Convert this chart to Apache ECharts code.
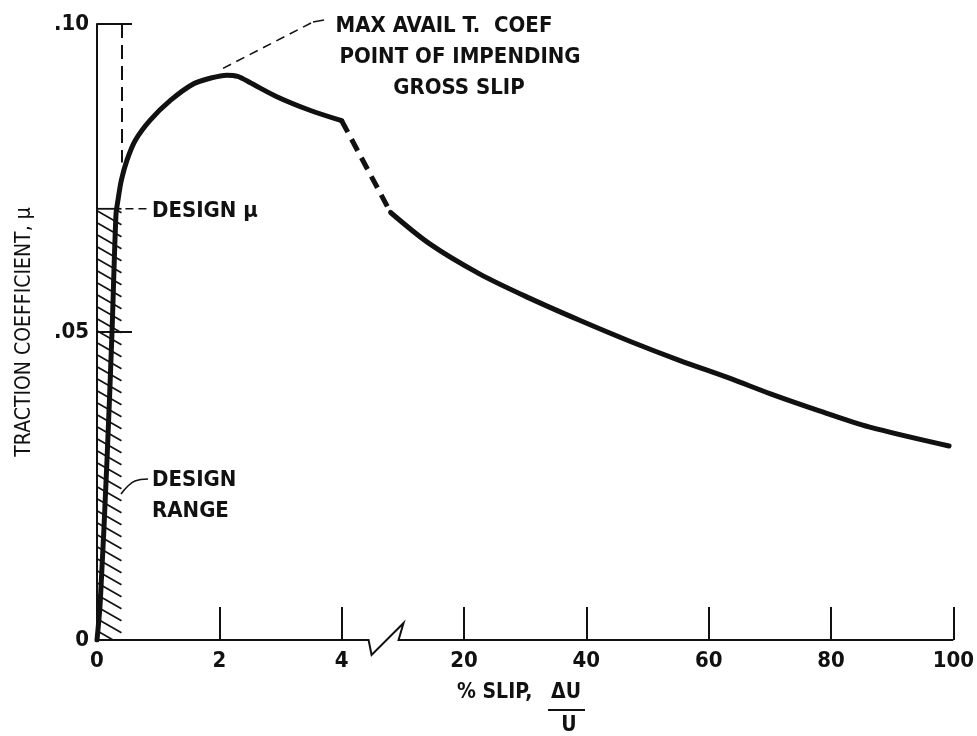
<!DOCTYPE html>
<html><head><meta charset="utf-8">
<script src="https://cdn.jsdelivr.net/npm/echarts@6/dist/echarts.min.js"></script>
<style>html,body{margin:0;padding:0;background:#fff}#c{width:977px;height:736px}</style>
</head><body><div id="c"></div>
<script>
const FONT = "'DejaVu Sans Condensed', 'DejaVu Sans', sans-serif";
const INK = '#111';

// ---- data (real % slip, traction coefficient) ----
const rampSlip = [0, 0.054, 0.163, 0.245, 0.31, 0.343, 0.397, 0.49, 0.625, 0.87, 1.2, 1.58, 1.85, 2.12, 2.3, 2.5, 2.94, 3.48, 4.0];
const rampMu   = [0, 0.0063, 0.0291, 0.0499, 0.0690, 0.0714, 0.0746, 0.0779, 0.0811, 0.0844, 0.0876, 0.0903, 0.0912, 0.0917, 0.0915, 0.0905, 0.0882, 0.0860, 0.0843];
const transSlip = [4.0, 8.0];
const transMu   = [0.0843, 0.0694];
const tailSlip = [8, 14.4, 22.6, 30.7, 38.9, 47.1, 55.2, 63.4, 70, 78.1, 86.2, 99.3];
const tailMu   = [0.0694, 0.0643, 0.0594, 0.0555, 0.0519, 0.0485, 0.0454, 0.0425, 0.0400, 0.0372, 0.0346, 0.0315];
const xTicks = [0, 2, 4, 20, 40, 60, 80, 100];
const yTicks = [0, 0.05, 0.10];
const yTickLabels = ['0', '.05', '.10'];
const designSlip = 0.4;     // right edge of design range
const designMu = 0.070;     // design traction coefficient
const dashTopMu = 0.10;     // vertical dashed line from
const dashBottomMu = 0.0775; // ... to

// broken axis: 0..4 linear, then 4 + x/10 beyond the break
function toAxis(x) {
  if (x <= 4) return x;
  if (x >= 8) return 4 + x / 10;
  return 4 + (x - 4) / 4 * 0.8;
}
function fromAxis(d) { return d <= 4 ? d : (d - 4) * 10; }
const pts = (xs, ys) => xs.map((x, i) => [toAxis(x), ys[i]]);

const chart = echarts.init(document.getElementById('c'));
const lineBase = { type: 'line', symbol: 'none', silent: true, animation: false, z: 5 };
const LBL = { fontSize: 22, fontWeight: 'bold', color: INK, fontFamily: FONT };

chart.setOption({
  animation: false,
  textStyle: { fontFamily: FONT, color: INK },
  grid: { left: 97, right: 23, top: 24, bottom: 96, containLabel: false },
  xAxis: {
    type: 'value', min: 0, max: toAxis(100),
    splitLine: { show: false },
    axisLine: { show: false },
    axisTick: { show: true, inside: true, length: 33, lineStyle: { color: INK, width: 2 }, customValues: xTicks.map(toAxis) },
    axisLabel: Object.assign({ show: true, margin: 10, customValues: xTicks.map(toAxis),
      formatter: v => String(Math.round(fromAxis(v))) }, LBL)
  },
  yAxis: {
    type: 'value', min: 0, max: 0.1, interval: 0.05,
    splitLine: { show: false },
    axisLine: { show: true, lineStyle: { color: INK, width: 2 } },
    axisTick: { show: true, inside: true, length: 35, lineStyle: { color: INK, width: 2 } },
    axisLabel: Object.assign({ margin: 8,
      formatter: v => { let k = 0; yTicks.forEach((t, i) => { if (Math.abs(t - v) < 1e-6) k = i; }); return yTickLabels[k]; } }, LBL),
    name: 'TRACTION COEFFICIENT, \u03bc', nameLocation: 'middle', nameGap: 62, nameRotate: 90,
    nameTextStyle: { fontSize: 21, color: INK, fontFamily: FONT }
  },
  series: [
    { // hatched design range
      type: 'custom', silent: true, z: 2, animation: false,
      data: [[0, toAxis(designSlip), 0, designMu]],
      renderItem: (params, api) => {
        const a = api.coord([api.value(0), api.value(3)]);
        const b = api.coord([api.value(1), api.value(2)]);
        const x0 = a[0], y0 = a[1], x1 = b[0], y1 = b[1];
        const w = x1 - x0, drop = 14, step = 12;
        const kids = [];
        for (let y = y0 - drop + 4; y < y1; y += step) {
          let sx = x0, sy = y, ex = x1, ey = y + drop;
          if (sy < y0) { sx = x0 + (y0 - sy) / drop * w; sy = y0; }
          if (ey > y1) { ex = x0 + (y1 - y) / drop * w; ey = y1; }
          kids.push({ type: 'line', shape: { x1: sx, y1: sy, x2: ex, y2: ey }, style: { stroke: INK, lineWidth: 1.6 } });
        }
        kids.push({ type: 'line', shape: { x1: x0, y1: y0, x2: x1, y2: y0 }, style: { stroke: INK, lineWidth: 1.8 } });
        return { type: 'group', children: kids };
      }
    },
    Object.assign({}, lineBase, { data: pts(rampSlip, rampMu), smooth: 0.3,
      lineStyle: { color: INK, width: 5, cap: 'round', join: 'round' },
      markLine: { silent: true, symbol: 'none', animation: false, label: { show: false },
        lineStyle: { color: INK, width: 2, type: [14, 7] },
        data: [[{ coord: [toAxis(designSlip), dashTopMu] }, { coord: [toAxis(designSlip), dashBottomMu] }]] } }),
    Object.assign({}, lineBase, { data: pts(transSlip, transMu),
      lineStyle: { color: INK, width: 5, type: [13, 8] } }),
    Object.assign({}, lineBase, { data: pts(tailSlip, tailMu), smooth: 0.3,
      lineStyle: { color: INK, width: 5, cap: 'round', join: 'round' } })
  ]
});

// ---- decorations: broken axis line, annotations ----
const P = (x, y) => chart.convertToPixel({ gridIndex: 0 }, [toAxis(x), y]);
const o = P(0, 0), e = P(100, 0);
const bx0 = chart.convertToPixel({ gridIndex: 0 }, [4.44, 0]);
const bx1 = chart.convertToPixel({ gridIndex: 0 }, [4.93, 0]);
const yb = o[1];
const peak = P(2.06, 0.0928);
const dsg = P(designSlip, designMu);
const T = (text, x, y, align, size) => ({ type: 'text', z: 10, silent: true,
  style: { text, x, y, align: align || 'left', verticalAlign: 'middle', font: 'bold ' + (size || 22) + 'px ' + FONT, fill: INK } });

chart.setOption({
  graphic: [
    { type: 'polyline', silent: true, z: 10,
      shape: { points: [[o[0], yb], [bx0[0], yb], [bx0[0] + 3, yb + 15], [bx1[0] + 5, yb - 17], [bx1[0], yb], [e[0], yb]] },
      style: { stroke: INK, lineWidth: 2, fill: null } },
    // max coefficient leader
    { type: 'line', silent: true, z: 10, shape: { x1: peak[0], y1: peak[1], x2: 313, y2: 22 },
      style: { stroke: INK, lineWidth: 1.6, lineDash: [9, 6] } },
    { type: 'line', silent: true, z: 10, shape: { x1: 313, y1: 22, x2: 324, y2: 20 }, style: { stroke: INK, lineWidth: 1.6 } },
    T('MAX AVAIL T.  COEF', 444, 26, 'center'),
    T('POINT OF IMPENDING', 460, 57, 'center'),
    T('GROSS SLIP', 459, 88, 'center'),
    // design mu leader
    { type: 'line', silent: true, z: 10, shape: { x1: dsg[0] + 4, y1: dsg[1], x2: 150, y2: dsg[1] },
      style: { stroke: INK, lineWidth: 1.6, lineDash: [8, 5] } },
    T('DESIGN \u03bc', 152, dsg[1] + 2),
    // design range leader
    { type: 'polyline', silent: true, z: 10, shape: { points: [[121, 494], [127, 487], [135, 481], [148, 479]], smooth: 0.4 },
      style: { stroke: INK, lineWidth: 1.6, fill: null } },
    T('DESIGN', 152, 480),
    T('RANGE', 152, 511),
    // x axis title
    T('% SLIP,', 457, 693, 'left', 21),
    T('\u0394U', 566, 693, 'center', 21),
    { type: 'line', silent: true, z: 10, shape: { x1: 548, y1: 710, x2: 585, y2: 710 }, style: { stroke: INK, lineWidth: 1.8 } },
    T('U', 569, 726, 'center', 21)
  ]
});
</script></body></html>
